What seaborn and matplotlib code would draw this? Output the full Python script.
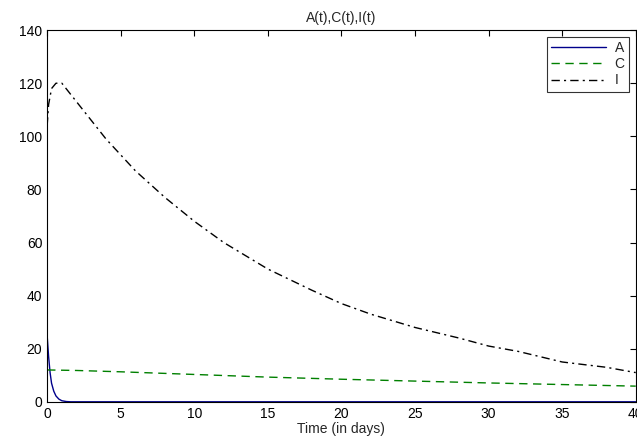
import numpy as np
import pandas as pd
import matplotlib
matplotlib.use('Agg')
import matplotlib.pyplot as plt
import seaborn as sns

# values
t_A = [0, 0.1, 0.2, 0.3, 0.45, 0.6, 0.8, 1.0, 1.3, 1.6, 40]
A = [25, 17, 11, 7, 4, 2.2, 1.0, 0.4, 0.1, 0, 0]

t_C = [0, 2, 5, 10, 15, 20, 25, 30, 35, 40]
C = [12, 11.8, 11.3, 10.3, 9.3, 8.5, 7.8, 7.1, 6.5, 5.9]

t_I = [0, 0.1, 0.3, 0.6, 1, 2, 3, 4, 5, 6, 8, 10, 12, 15, 18, 20, 22, 25, 28, 30, 32, 35, 38, 40]
I = [104, 112, 118, 120, 120, 113, 106, 99, 93, 87, 77, 68, 60, 50, 42, 37, 33, 28, 24, 21, 19, 15, 13, 11]

sns.set_style("white")
plt.rcParams['font.family'] = ['Liberation Sans', 'DejaVu Sans']
plt.rcParams['xtick.direction'] = 'in'
plt.rcParams['ytick.direction'] = 'in'

fig = plt.figure(figsize=(6.37, 4.43), dpi=100)
ax = fig.add_axes([0.074, 0.093, 0.924, 0.839])

sns.lineplot(x=t_A, y=A, ax=ax, color='#00008b', lw=1, label='A')
sns.lineplot(x=t_C, y=C, ax=ax, color='#008000', lw=1, label='C')
sns.lineplot(x=t_I, y=I, ax=ax, color='black', lw=1, label='I')
ax.lines[1].set_dashes([6, 4])
ax.lines[2].set_dashes([6, 3, 1.5, 3])

ax.set_xlim(0, 40)
ax.set_ylim(0, 140)
ax.set_xticks(range(0, 41, 5))
ax.set_yticks(range(0, 141, 20))
ax.tick_params(labelsize=10, length=4, top=True, right=True, colors='black')
for s in ax.spines.values():
    s.set_color('black')
    s.set_linewidth(0.8)
ax.set_title('A(t),C(t),I(t)', fontsize=10)
ax.set_xlabel('Time (in days)', fontsize=10, labelpad=1)

leg = ax.legend(loc='upper right', fontsize=10, frameon=True, fancybox=False,
                edgecolor='black', borderaxespad=0.5, handlelength=4.0,
                labelspacing=0.15, borderpad=0.3, handletextpad=0.6)
leg.get_frame().set_linewidth(0.8)
leg_lines = leg.get_lines()
leg_lines[1].set_dashes([6, 4])
leg_lines[2].set_dashes([6, 3, 1.5, 3])

fig.savefig('out.png', dpi=100)
